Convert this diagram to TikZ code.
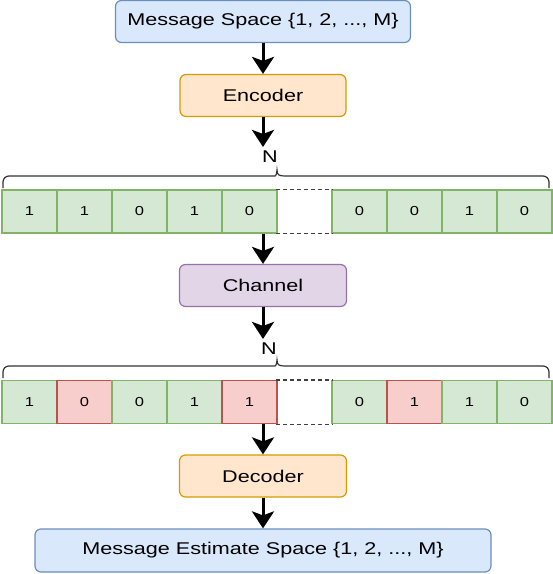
\documentclass[tikz,border=0pt]{standalone}
\usepackage{fontspec}
\setmainfont[FakeStretch=1.27]{Liberation Sans}
\usetikzlibrary{arrows.meta}

\definecolor{msgFill}{HTML}{DAE8FC}
\definecolor{msgLine}{HTML}{6C8EBF}
\definecolor{codFill}{HTML}{FFE6CC}
\definecolor{codLine}{HTML}{D79B00}
\definecolor{chanFill}{HTML}{E1D5E7}
\definecolor{chanLine}{HTML}{9673A6}
\definecolor{bitFill}{HTML}{D5E8D4}
\definecolor{bitLine}{HTML}{82B366}
\definecolor{flipFill}{HTML}{F8CECC}
\definecolor{flipLine}{HTML}{B85450}

\begin{document}
\begin{tikzpicture}[x=1pt, y=-1pt,
	box/.style={draw, rounded corners=6pt, line width=1.2pt, minimum height=42pt, inner sep=0pt, font=\fontsize{17}{19}\selectfont},
	bit/.style={draw=bitLine, fill=bitFill, line width=1.2pt, minimum width=55pt, minimum height=43pt, inner sep=0pt, font=\fontsize{13}{15}\selectfont},
	flip/.style={draw=flipLine, fill=flipFill},
	flow/.style={-{Stealth[length=17pt, width=22pt, inset=4pt]}, line width=3pt},
	count/.style={inner sep=1pt, font=\fontsize{17}{18}\selectfont},
	brace/.style={draw=black!80, line width=1.2pt},
	gapline/.style={draw=black!75, line width=1.2pt, dash pattern=on 4pt off 3pt}]

			\useasboundingbox (0,0) rectangle (553,574);

			\node[box, draw=msgLine, fill=msgFill, minimum width=295pt] (msg) at (263,21.5) {Message Space \{1, 2, ..., M\}};
			\node[box, draw=codLine, fill=codFill, minimum width=166pt] (enc) at (263,95.5) {Encoder};
			\node[count] (n1) at (270,157) {N};

			\foreach \i/\b in {1/1,2/1,3/0,4/1,5/0,7/0,8/0,9/1,10/0}
				\node[bit] (a\i) at (55*\i-25.5,211.5) {\b};
			\node[bit, draw=none, fill=none] (a6) at (304.5,211.5) {};
			\draw[gapline] (a6.north west) -- (a6.north east) (a6.south west) -- (a6.south east);

			\node[box, draw=chanLine, fill=chanFill, minimum width=167pt] (chan) at (263,285.5) {Channel};
			\node[count] (n2) at (269,349) {N};

			\foreach \i/\b/\s in {1/1/,2/0/flip,3/0/,4/1/,5/1/flip,7/0/,8/1/flip,9/1/,10/0/}
				\node[bit,\s] (b\i) at (55*\i-25.5,402) {\b};
			\node[bit, draw=none, fill=none] (b6) at (304.5,402) {};
			\draw[gapline] (b6.north west) -- (b6.north east) (b6.south west) -- (b6.south east);

			\node[box, draw=codLine, fill=codFill, minimum width=167pt] (dec) at (263,476) {Decoder};
			\node[box, draw=msgLine, fill=msgFill, minimum width=456pt, minimum height=43pt] (est) at (263,550.5) {Message Estimate Space \{1, 2, ..., M\}};

			% braces over the two words
			\foreach \y in {188,378}
				\draw[brace] (3,\y) [rounded corners=6pt] -- (3,\y-12) -- (269,\y-12) [sharp corners] .. controls (275,\y-12) and (277,\y-13) .. (277,\y-18) .. controls (277,\y-13) and (279,\y-12) .. (285,\y-12) [rounded corners=6pt] -- (549,\y-12) -- (549,\y);

			\draw[flow] (msg) -- (enc);
			\draw[flow, shorten >=3pt] (enc.south) -- (enc.south |- n1.north);
			\draw[flow] (a5.south -| chan.north) -- (chan.north);
			\draw[flow, shorten >=3pt] (chan.south) -- (chan.south |- n2.north);
			\draw[flow] (b5.south -| dec.north) -- (dec.north);
			\draw[flow] (dec) -- (est);

	\end{tikzpicture}
\end{document}
